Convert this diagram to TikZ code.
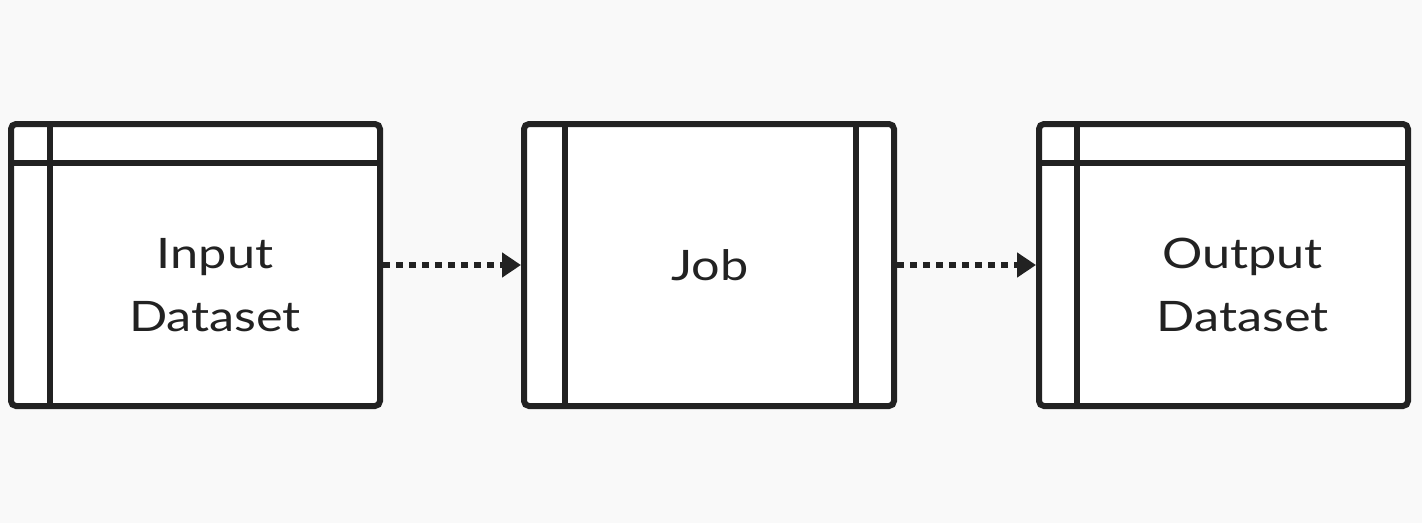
\documentclass[tikz,border=0pt]{standalone}
\usepackage{fontspec}
\setmainfont{Lato}[FakeStretch=1.2]
\usetikzlibrary{arrows.meta}
\definecolor{ink}{HTML}{222222}
\definecolor{bg}{HTML}{F9F9F9}
\tikzset{
  box/.style={draw=ink, fill=white, line width=6pt, rounded corners=5pt,
    minimum height=282pt, inner sep=0pt, outer sep=3pt},
  divider/.style={draw=ink, line width=6pt},
  flow/.style={draw=ink, line width=6pt, dash pattern=on 6.5pt off 6.5pt,
    -{Triangle[length=19pt,width=24pt]}},
  lbl/.style={font=\fontsize{42pt}{63pt}\selectfont, text=ink, align=center}
}
\begin{document}
\begin{tikzpicture}[x=1pt,y=-1pt]
\fill[bg] (0,0) rectangle (1422,523);
\useasboundingbox (0,0) rectangle (1422,523);
% boxes
\node[box, minimum width=369pt] (in) at (195.5,265) {};
\node[box, minimum width=370pt] (job) at (709,265) {};
\node[box, minimum width=369pt] (out) at (1223.5,265) {};
% input dataset dividers
\draw[divider] ([xshift=42pt]in.north west) -- ([xshift=42pt]in.south west);
\draw[divider] ([yshift=-42pt]in.north west) -- ([yshift=-42pt]in.north east);
% job dividers
\draw[divider] ([xshift=44pt]job.north west) -- ([xshift=44pt]job.south west);
\draw[divider] ([xshift=-41.5pt]job.north east) -- ([xshift=-41.5pt]job.south east);
% output dataset dividers
\draw[divider] ([xshift=41pt]out.north west) -- ([xshift=41pt]out.south west);
\draw[divider] ([yshift=-42pt]out.north west) -- ([yshift=-42pt]out.north east);
% labels
\node[lbl] (inl) at (215,285) {Input\\Dataset};
\node[lbl] (jobl) at (710,265) {Job};
\node[lbl] (outl) at (1242.5,285) {Output\\Dataset};
% connectors
\draw[flow] (in.east) -- (job.west);
\draw[flow] (job.east) -- (out.west);
\end{tikzpicture}
\end{document}
